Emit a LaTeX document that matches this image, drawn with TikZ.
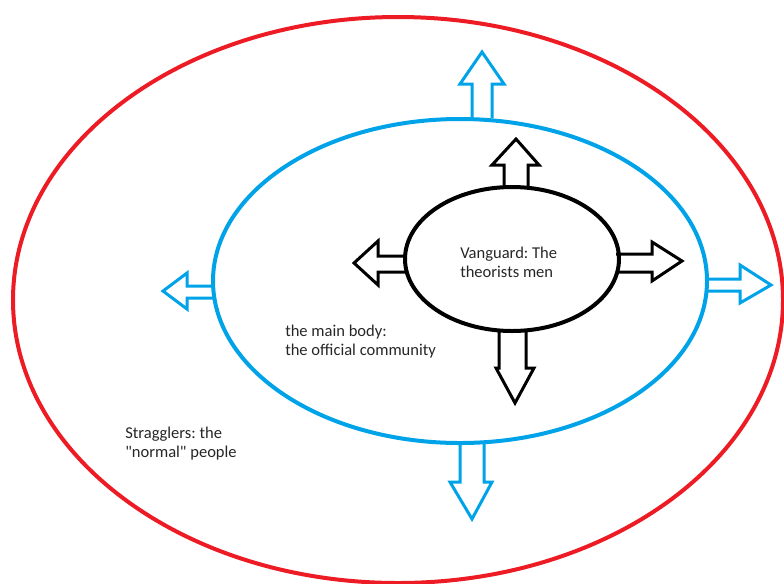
\documentclass[tikz,border=0pt]{standalone}
\usepackage{fontspec}
\setmainfont{Carlito}[Ligatures=TeXOff]
\usetikzlibrary{shapes.geometric}
\definecolor{pred}{HTML}{ED1C24}
\definecolor{pblue}{HTML}{00A2E8}
\frenchspacing
\begin{document}
\begin{tikzpicture}[x=0.75pt,y=-0.75pt,
  ring/.style={ellipse, draw, line width=3pt, inner sep=0pt, outer sep=0pt},
  barrow/.style={line width=2.25pt, line join=miter},
  label/.style={anchor=north west, inner sep=0pt, align=left, text=black!85, font=\fontsize{12.4pt}{14.8pt}\selectfont}]
\useasboundingbox (0,0) rectangle (784,583);
\clip (0,0) rectangle (784,583);
% ellipses
\node[ring, draw=pred, minimum width=577.5pt, minimum height=424.5pt] (outer) at (398,300) {};
\node[ring, draw=pblue, minimum width=370.5pt, minimum height=243pt] (middle) at (460,281) {};
\node[ring, draw=black, minimum width=160.5pt, minimum height=108pt] (inner) at (512,259) {};
% blue block arrows
\draw[barrow, pblue] (472,118) -- (472,84) -- (460,84) -- (482,52) -- (504,84) -- (492,84) -- (492,118);
\draw[barrow, pblue] (706,279) -- (740,279) -- (740,265) -- (771,285) -- (740,303) -- (740,291) -- (706,291);
\draw[barrow, pblue] (213,286) -- (187,286) -- (187,273) -- (163,291) -- (187,309) -- (187,298) -- (213,298);
\draw[barrow, pblue] (460,444) -- (460,482) -- (450,482) -- (472,519) -- (492,482) -- (484,482) -- (484,444);
% black block arrows
\draw[barrow, black] (504,188) -- (504,165) -- (492,165) -- (516,139) -- (539,165) -- (528,165) -- (528,188);
\draw[barrow, black] (616,254) -- (652,254) -- (652,242) -- (682,261) -- (652,281) -- (652,272) -- (616,272);
\draw[barrow, black] (406,256) -- (378,256) -- (378,241) -- (354,263) -- (378,285) -- (378,272) -- (406,272);
\draw[barrow, black] (499,331) -- (499,368) -- (496,368) -- (515,403) -- (534,368) -- (526,368) -- (526,331);
% texts
\node[label] (vanguard) at (460,246.5) {Vanguard: The\\theorists men};
\node[label] (mainbody) at (285,324.5) {the main body:\\the official community};
\node[label] (stragglers) at (125,426.5) {Stragglers: the\\"normal" people};
\end{tikzpicture}
\end{document}
